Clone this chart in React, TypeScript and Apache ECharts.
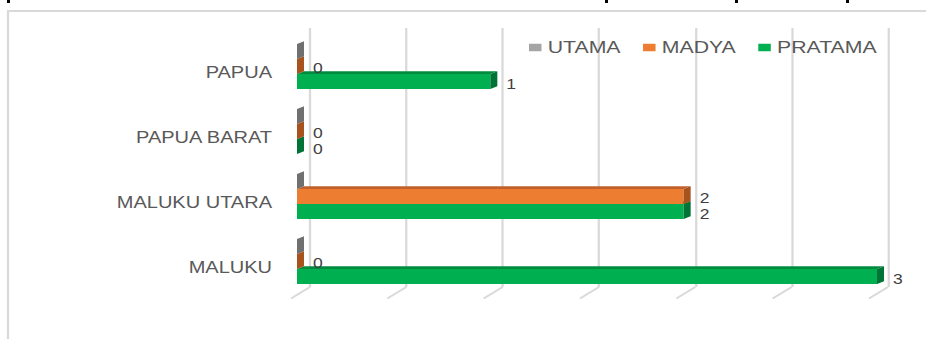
import React, { useEffect, useRef } from "react";
import * as echarts from "echarts";

// ---- data ----
const categories = ["MALUKU", "MALUKU UTARA", "PAPUA BARAT", "PAPUA"];
const utama = [0, 0, 0, 0];
const madya = [0, 2, 0, 0];
const pratama = [3, 2, 0, 1];
const xTicks = [0, 0.5, 1, 1.5, 2, 2.5, 3];

// ---- styling ----
const SX = 1.25; // horizontal stretch of the original picture
const W = 926 / SX;
const FONT = '"Liberation Sans", Arial, sans-serif';
const DX = 7 / SX;
const DY = -2.7;
const BAR_FRACTION = 45 / 65;

type Colors = { front: string; top: string; side: string };
const GRAY: Colors = { front: "#a5a5a5", top: "#8a8a8a", side: "#707070" };
const ORANGE: Colors = { front: "#ed7d31", top: "#c0602a", side: "#a8531e" };
const GREEN: Colors = { front: "#00b050", top: "#008c3f", side: "#007436" };

function barSeries(
  name: string,
  values: number[],
  pos: number,
  c: Colors,
  showLabel: boolean,
  labelShift: number
) {
  return {
    type: "custom",
    name,
    xAxisIndex: 0,
    yAxisIndex: 0,
    itemStyle: { color: c.front },
    encode: { x: 0, y: 1 },
    data: values.map((v, i) => [v, i]),
    renderItem: (_params: any, api: any) => {
      const v = api.value(0);
      const ci = api.value(1);
      const end = api.coord([v, ci]);
      const start = api.coord([0, ci]);
      const band = api.size([0, 1])[1];
      const h = (band * BAR_FRACTION) / 3;
      const yTop = end[1] - 1.5 * h + pos * h;
      const x0 = start[0];
      const x1 = end[0];
      const children: any[] = [];
      if (x1 - x0 > 0.5) {
        children.push({
          type: "rect",
          shape: { x: x0, y: yTop, width: x1 - x0, height: h },
          style: { fill: c.front },
        });
        children.push({
          type: "polygon",
          shape: { points: [[x0, yTop], [x1, yTop], [x1 + DX, yTop + DY], [x0 + DX, yTop + DY]] },
          style: { fill: c.top },
        });
      }
      children.push({
        type: "polygon",
        shape: { points: [[x1, yTop], [x1 + DX, yTop + DY], [x1 + DX, yTop + h + DY], [x1, yTop + h]] },
        style: { fill: c.side },
      });
      if (showLabel) {
        children.push({
          type: "text",
          x: x1 + 16 / SX,
          y: yTop + h / 2 + 2.5 + labelShift,
          style: {
            text: String(v),
            fill: "#404040",
            fontSize: 14,
            lineHeight: 14,
            fontFamily: FONT,
            align: "left",
            verticalAlign: "middle",
          },
        });
      }
      return { type: "group", children };
    },
  };
}

export default function App() {
  const ref = useRef<HTMLDivElement>(null);
  useEffect(() => {
    if (!ref.current) return;
    const chart = echarts.init(ref.current, undefined, { renderer: "svg" });
    chart.setOption({
      animation: false,
      backgroundColor: "#ffffff",
      textStyle: { fontFamily: FONT },
      graphic: [
        {
          type: "rect",
          shape: { x: 8 / SX, y: 11, width: 2000, height: 1000 },
          style: { fill: "none", stroke: "#d9d9d9", lineWidth: 1.8 },
          silent: true,
        },
        { type: "rect", shape: { x: 7 / SX, y: 0, width: 3 / SX, height: 3 }, style: { fill: "#000" } },
        { type: "rect", shape: { x: 605 / SX, y: 0, width: 3 / SX, height: 3 }, style: { fill: "#000" } },
        { type: "rect", shape: { x: 735 / SX, y: 0, width: 3 / SX, height: 3 }, style: { fill: "#000" } },
        { type: "rect", shape: { x: 846 / SX, y: 0, width: 3 / SX, height: 3 }, style: { fill: "#000" } },
      ],
      legend: {
        data: ["UTAMA", "MADYA", "PRATAMA"],
        left: 529 / SX,
        top: 39,
        padding: 0,
        icon: "rect",
        itemWidth: 10,
        itemHeight: 7.5,
        itemGap: 18,
        textStyle: { color: "#595959", fontSize: 17, fontFamily: FONT },
      },
      grid: [
        { left: 297 / SX, width: (877 - 297) / SX, top: 34, height: 260 },
        { left: 310 / SX, width: (888 - 310) / SX, top: 28, height: 259 },
      ],
      xAxis: [
        { type: "value", gridIndex: 0, min: 0, max: 3, interval: 0.5, show: false },
        {
          type: "value",
          gridIndex: 1,
          min: 0,
          max: 3,
          interval: 0.5,
          axisLine: { show: false },
          axisTick: { show: false },
          axisLabel: { show: false },
          splitLine: { show: true, lineStyle: { color: "#d9d9d9", width: 1.8 } },
        },
      ],
      yAxis: [
        {
          type: "category",
          gridIndex: 0,
          data: categories,
          axisLine: { show: false },
          axisTick: { show: false },
          splitLine: { show: false },
          axisLabel: {
            color: "#595959",
            fontSize: 16,
            fontFamily: FONT,
            margin: 25 / SX,
            verticalAlign: "top",
            lineHeight: 12,
          },
        },
        { type: "value", gridIndex: 1, min: 0, max: 1, show: false },
      ],
      series: [
        {
          type: "custom",
          name: "floor",
          xAxisIndex: 1,
          yAxisIndex: 1,
          silent: true,
          data: xTicks.map((t) => [t, 0]),
          encode: { x: 0, y: 1 },
          renderItem: (_p: any, api: any) => {
            const p = api.coord([api.value(0), 0]);
            return {
              type: "line",
              shape: { x1: p[0], y1: p[1], x2: p[0] - 19 / SX, y2: p[1] + 11.5 },
              style: { stroke: "#d9d9d9", lineWidth: 1.6 },
            };
          },
        },
        barSeries("PRATAMA", pratama, 2, GREEN, true, 0.5),
        barSeries("MADYA", madya, 1, ORANGE, true, -0.5),
        barSeries("UTAMA", utama, 0, GRAY, false, 0),
      ],
    });
    return () => chart.dispose();
  }, []);
  return (
    <div
      ref={ref}
      style={{
        position: "fixed",
        left: 0,
        top: 0,
        width: W,
        height: 339,
        transform: `scaleX(${SX})`,
        transformOrigin: "0 0",
        background: "#fff",
      }}
    />
  );
}
